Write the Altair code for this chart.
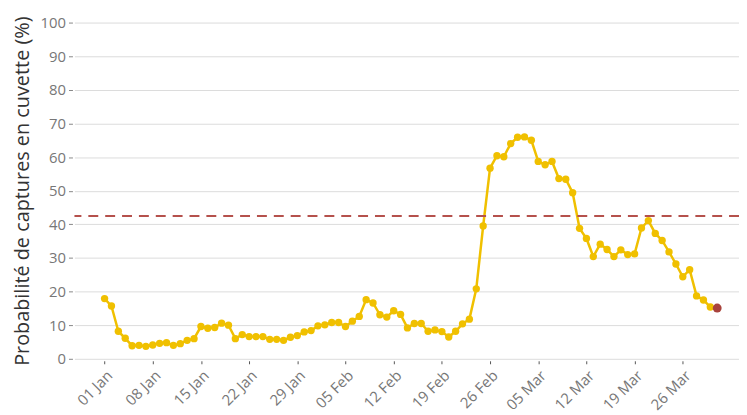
import altair as alt
import pandas as pd

dates = pd.date_range("2023-01-01", "2023-03-31", freq="D").strftime("%Y-%m-%dT00:00:00").tolist()
values = [
    17.9, 15.7, 8.2, 6.1, 3.9, 4.0, 3.7, 4.1, 4.6, 4.8,
    4.0, 4.5, 5.5, 6.0, 9.6, 9.1, 9.3, 10.6, 10.0, 6.0,
    7.2, 6.6, 6.6, 6.6, 5.8, 5.8, 5.5, 6.4, 6.9, 8.0,
    8.4, 9.8, 10.1, 10.8, 10.8, 9.6, 11.2, 12.6, 17.6, 16.6,
    13.1, 12.4, 14.3, 13.2, 9.2, 10.5, 10.5, 8.2, 8.6, 8.1,
    6.5, 8.2, 10.4, 11.8, 20.8, 39.5, 56.7, 60.4, 60.1, 64.0,
    65.9, 66.0, 65.0, 58.7, 57.7, 58.7, 53.6, 53.4, 49.4, 38.8,
    35.8, 30.4, 34.1, 32.5, 30.4, 32.4, 31.0, 31.2, 38.9, 41.1,
    37.3, 35.2, 31.8, 28.2, 24.4, 26.5, 18.7, 17.5, 15.4, 15.1,
]
threshold = [42.5]
tick_dates = ["2023-01-01", "2023-01-08", "2023-01-15", "2023-01-22", "2023-01-29",
              "2023-02-05", "2023-02-12", "2023-02-19", "2023-02-26", "2023-03-05",
              "2023-03-12", "2023-03-19", "2023-03-26"]
y_ticks = list(range(0, 101, 10))

df = pd.DataFrame({"date": dates, "value": values})
last = df.tail(1)
thr = pd.DataFrame({"y": threshold})

tick_vals = [alt.DateTime(year=int(d[:4]), month=int(d[5:7]), date=int(d[8:10])) for d in tick_dates]

FONT = "Open Sans"

x_scale = alt.Scale(domain=[alt.DateTime(year=2022, month=12, date=27, hours=15),
                            alt.DateTime(year=2023, month=4, date=3, hours=4)])
x_axis = alt.Axis(values=tick_vals, format="%d %b", labelAngle=-45, labelAlign="right",
                  labelBaseline="top", grid=False, domain=False, tickSize=3,
                  tickColor="#555", labelColor="#777", labelFontSize=15, labelFont=FONT,
                  labelPadding=4, offset=2, labelOverlap=False)
y_scale = alt.Scale(domain=[0, 100], nice=False)
y_axis = alt.Axis(values=y_ticks, grid=True, gridColor="#dcdcdc", domain=False,
                  tickSize=4, tickColor="#888", offset=2, labelPadding=3,
                  labelColor="#777", labelFontSize=15, labelFont=FONT, labelOverlap=False,
                  titleFont=FONT, titleFontSize=20, titleFontWeight="normal",
                  titleColor="#333", titlePadding=8,
                  title="Probabilité de captures en cuvette (%)")

x_enc = alt.X("date:T", title=None, scale=x_scale, axis=x_axis)
y_enc = alt.Y("value:Q", scale=y_scale, axis=y_axis)

line = alt.Chart(df).mark_line(color="#f0c000", strokeWidth=2.5).encode(x=x_enc, y=y_enc)
pts = alt.Chart(df).mark_circle(color="#f0c000", size=55, opacity=1).encode(x=x_enc, y=y_enc)
lastpt = alt.Chart(last).mark_circle(color="#a8423d", size=80, opacity=1).encode(x=x_enc, y=y_enc)
rule = alt.Chart(thr).mark_rule(color="#b5514c", strokeWidth=2, strokeDash=[10, 7]).encode(
    y=alt.Y("y:Q", scale=y_scale, axis=y_axis))

chart = (
    alt.layer(line, pts, rule, lastpt)
    .properties(width=670, height=339,
                autosize=alt.AutoSizeParams(type="none"),
                padding={"left": 67, "top": 13, "right": 0, "bottom": 60})
    .configure_view(stroke=None)
)

chart.save("out.html", embed_options={"renderer": "svg", "actions": False})
